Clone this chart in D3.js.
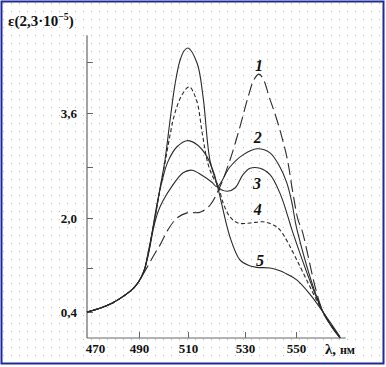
<!DOCTYPE html>
<html><head><meta charset="utf-8">
<script src="https://cdn.jsdelivr.net/npm/d3@7"></script>
<style>html,body{margin:0;padding:0;background:#fff;}svg{display:block;}</style>
</head><body>
<script>
// ---- data (wavelength nm, epsilon units) ----
const curveNames = ["1","2","3","4","5"];
const curve1 = [[470,0.4],[475,0.47],[480,0.57],[485,0.72],[488,0.84],[490,0.96],[492.5,1.15],[495.7,1.38],[498.6,1.57],[501.8,1.81],[505.5,2.0],[509.6,2.08],[514.2,2.09],[517.7,2.2],[521.2,2.49],[524.7,2.9],[528.2,3.39],[531.2,3.85],[533.6,4.13],[535.5,4.21],[537.3,4.12],[539.5,3.85],[542.5,3.5],[546.4,2.95],[548.8,2.39],[550.8,1.97],[552.3,1.81],[560.6,0.4],[567.3,0]];
const curve2 = [[470,0.4],[475,0.47],[480,0.57],[485,0.72],[488,0.84],[490,0.96],[492,1.14],[494,1.45],[496,1.85],[497.8,2.1],[499.8,2.27],[503.5,2.5],[508,2.71],[511.4,2.75],[514.9,2.67],[518.4,2.56],[520.2,2.49],[524.7,2.8],[529.3,2.98],[534.7,3.07],[539.8,3.01],[543.7,2.8],[546.4,2.55],[548.4,2.24],[550.4,1.81],[560.6,0.4],[567.3,0]];
const curve3 = [[470,0.4],[475,0.47],[480,0.57],[485,0.72],[488,0.84],[490,0.96],[492,1.14],[494,1.47],[496,1.92],[497.5,2.25],[499.4,2.58],[501.8,2.88],[505.5,3.1],[509.6,3.19],[513.2,3.13],[516.7,2.95],[519.5,2.65],[520.5,2.49],[523.7,2.42],[526.5,2.47],[529.3,2.68],[532,2.78],[535.9,2.78],[539.8,2.68],[543.7,2.39],[547.6,1.92],[548.4,1.81],[560.6,0.4],[567.3,0]];
const curve4 = [[470,0.4],[475,0.47],[480,0.57],[485,0.72],[488,0.84],[490,0.96],[492,1.14],[494,1.48],[496.5,2.0],[498.6,2.45],[500.8,2.9],[502.8,3.3],[504.5,3.58],[507.5,3.88],[510.4,4.01],[513,3.8],[515,3.3],[517,2.85],[519,2.62],[520.5,2.52],[522.3,2.24],[524.7,2.02],[527.5,1.92],[532,1.92],[537,1.94],[541,1.89],[543.7,1.81],[560.6,0.4],[567.3,0]];
const curve5 = [[470,0.4],[475,0.47],[480,0.57],[485,0.72],[488,0.84],[490,0.96],[492,1.14],[494,1.5],[496.5,2.0],[498.5,2.45],[500.6,2.9],[502.7,3.5],[504.7,4.05],[506.7,4.42],[508.5,4.58],[510,4.62],[513.2,4.38],[515.3,3.85],[517.7,2.9],[520.5,2.47],[524.7,1.7],[528.2,1.33],[531.5,1.24],[534.7,1.21],[539.8,1.2],[543.7,1.15],[546,1.1],[550.4,0.98],[555.5,0.72],[560.6,0.4],[567.3,0.02]];
const curves = [curve1, curve2, curve3, curve4, curve5];
const curveDash = ["12,5", null, null, "4,2.5", null];
const labelAt = [[535.5,4.35],[535,3.24],[534.7,2.55],[535,2.13],[535.9,1.32]];
const xTicks = [470,490,510,530,550];
const xTickLabels = ["470","490","510","530","550"];
const yTicks = [0.4,1.2,2.0,2.8,3.6,4.4];
const yTickLabels = ["0,4","","2,0","","3,6",""];

const W = 386, H = 367;
const svg = d3.select("body").append("svg").attr("width", W).attr("height", H);

// dotted background
const defs = svg.append("defs");
const pat = defs.append("pattern").attr("id","dots").attr("width",8).attr("height",8)
  .attr("patternUnits","userSpaceOnUse").attr("x",3).attr("y",3);
pat.append("rect").attr("x",0).attr("y",0).attr("width",1).attr("height",1).attr("fill","#b8b8b8");
svg.append("rect").attr("x",0).attr("y",0).attr("width",W).attr("height",H).attr("fill","#fff");
svg.append("rect").attr("x",2).attr("y",2).attr("width",381).attr("height",361).attr("fill","url(#dots)");
svg.append("rect").attr("x",1.5).attr("y",1.5).attr("width",382).attr("height",362)
  .attr("fill","none").attr("stroke","#1f2a94").attr("stroke-width",2);

const x = d3.scaleLinear().domain([470,490,510,530,550,570]).range([87,139,188,245,296,347]);
const y = d3.scaleLinear().domain([0,0.4,1.2,2.0,2.8,3.6,4.4,5.2]).range([338,312,268,218,167,113,62,11]);

const font = "'Liberation Serif','Times New Roman',serif";
const axisColor = "#666";

// axis lines
svg.append("line").attr("x1",x(470)).attr("x2",x(569.5)).attr("y1",y(0)).attr("y2",y(0))
  .attr("stroke",axisColor).attr("stroke-width",1.2);
svg.append("line").attr("x1",x(470)).attr("x2",x(470)).attr("y1",y(0)).attr("y2",y(4.82))
  .attr("stroke",axisColor).attr("stroke-width",1.2);

const xa = svg.append("g").attr("transform",`translate(0,${y(0)})`)
  .call(d3.axisBottom(x).tickValues(xTicks).tickSize(-6).tickPadding(6)
    .tickFormat((d,i)=>xTickLabels[i]));
xa.select(".domain").remove();
xa.selectAll(".tick line").attr("stroke",axisColor);
xa.selectAll(".tick").filter(d=>d===470).select("line").remove();
xa.selectAll(".tick").filter(d=>d===470).select("text").attr("x",8);
xa.selectAll("text").attr("font-family",font).attr("font-size",13).attr("font-weight","bold").attr("fill","#111");

const ya = svg.append("g").attr("transform",`translate(${x(470)},0)`)
  .call(d3.axisLeft(y).tickValues(yTicks).tickSize(-6).tickPadding(10)
    .tickFormat((d,i)=>yTickLabels[i]));
ya.select(".domain").remove();
ya.selectAll(".tick line").attr("stroke",axisColor);
ya.selectAll("text").attr("font-family",font).attr("font-size",13).attr("font-weight","bold").attr("fill","#111");

// curves
const line = d3.line().x(d=>x(d[0])).y(d=>y(d[1])).curve(d3.curveCatmullRom.alpha(0.5));
svg.append("g").selectAll("path").data(curves).join("path")
  .attr("d", line).attr("fill","none").attr("stroke","#2a2a2a").attr("stroke-width",1.1)
  .attr("stroke-dasharray",(d,i)=>curveDash[i]);

// curve labels
svg.append("g").selectAll("text").data(labelAt).join("text")
  .attr("x",d=>x(d[0])).attr("y",d=>y(d[1])).attr("dy","0.35em").attr("text-anchor","middle")
  .attr("font-family",font).attr("font-style","italic").attr("font-weight","bold")
  .attr("font-size",16).attr("fill","#111").text((d,i)=>curveNames[i]);

// axis titles
const yt = svg.append("text").attr("x",8).attr("y",26).attr("font-family",font)
  .attr("font-size",15).attr("font-weight","bold").attr("fill","#111");
yt.append("tspan").text("ε(2,3·10");
yt.append("tspan").attr("dy",-6).attr("font-size",10).text("−5");
yt.append("tspan").attr("dy",6).text(")");

const xt = svg.append("text").attr("x",325).attr("y",354).attr("font-family",font)
  .attr("font-weight","bold").attr("fill","#111");
xt.append("tspan").attr("font-size",15).text("λ, ");
xt.append("tspan").attr("font-size",12).text("нм");
</script>
</body></html>
